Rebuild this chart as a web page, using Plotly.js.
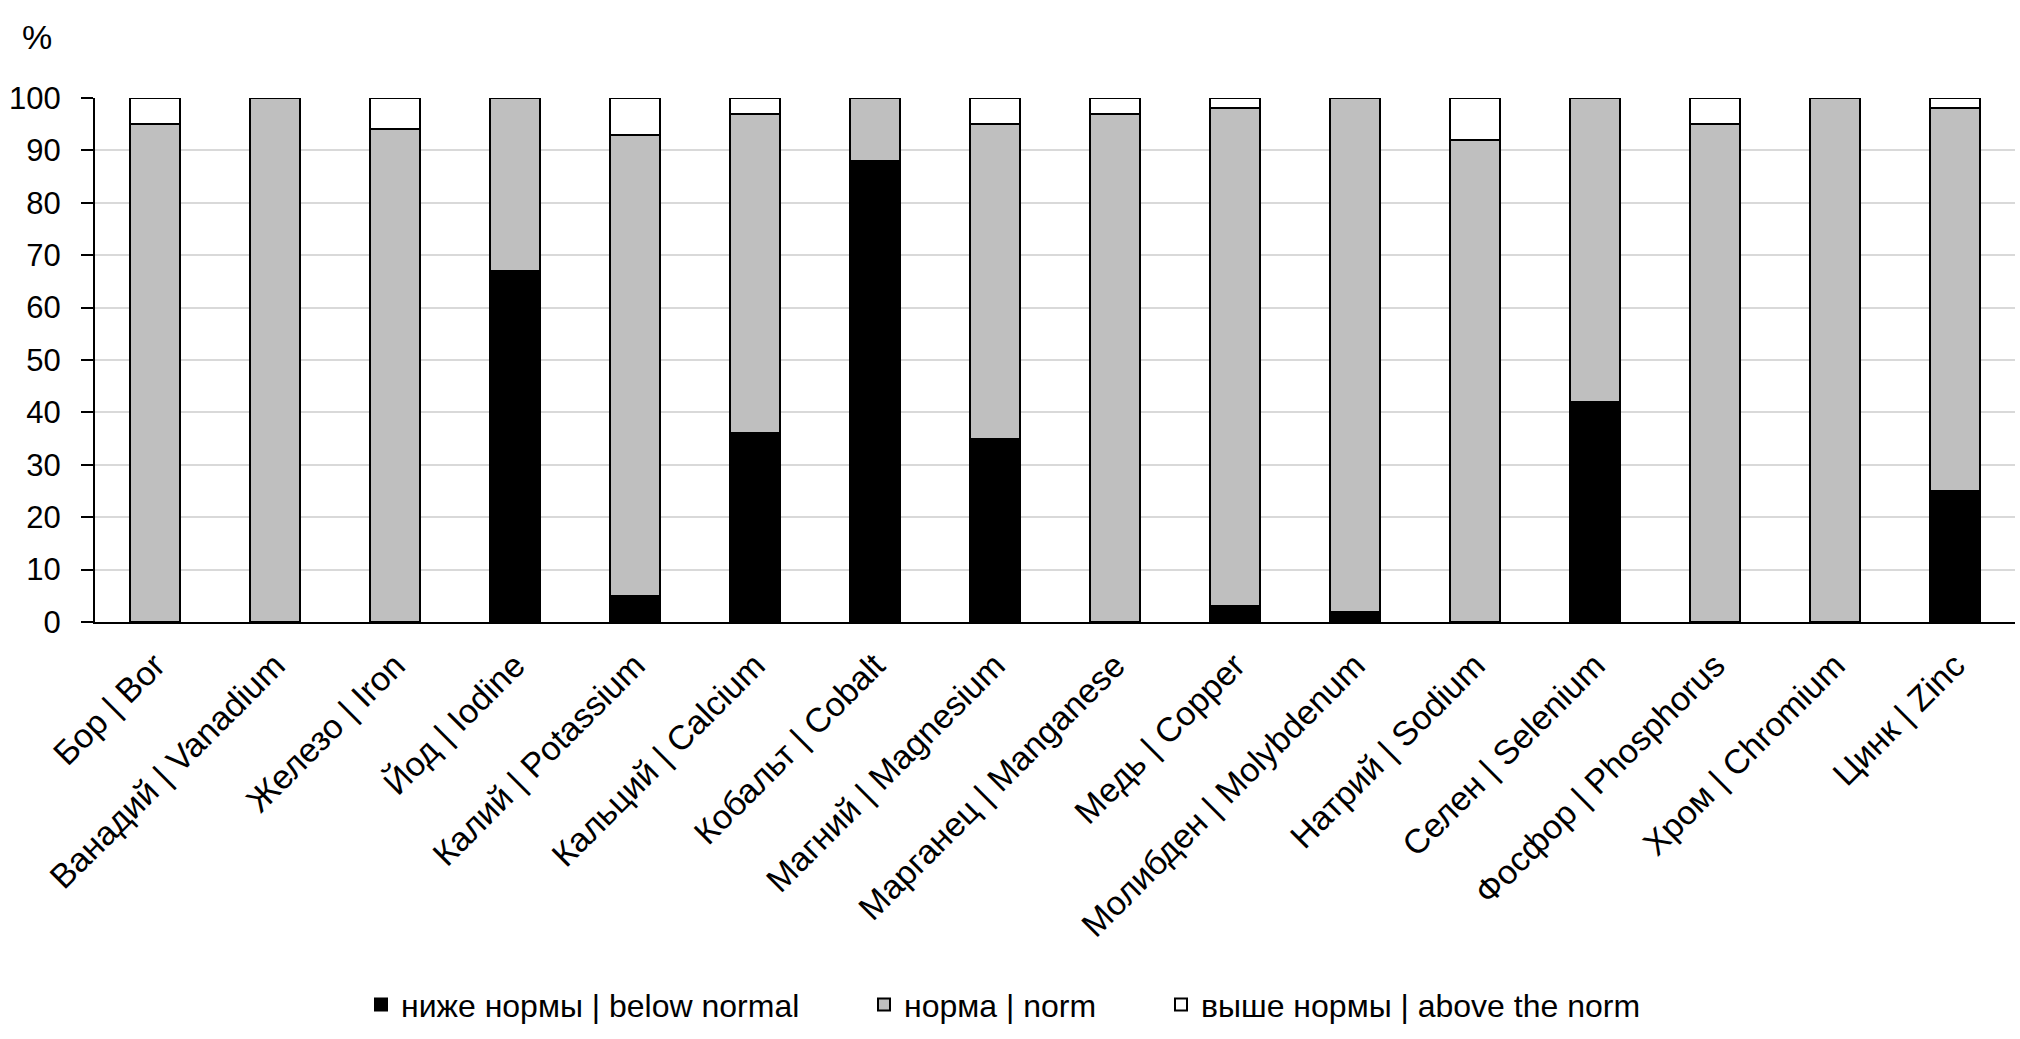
<!DOCTYPE html>
<html>
<head>
<meta charset="utf-8">
<script src="https://cdn.plot.ly/plotly-3.0.1.min.js"></script>
<style>html,body{margin:0;padding:0;background:#fff;}#chart{width:2020px;height:1039px;}</style>
</head>
<body>
<div id="chart"></div>
<script>
const categories = ["Бор | Bor", "Ванадий | Vanadium", "Железо | Iron", "Йод | Iodine", "Калий | Potassium", "Кальций | Calcium", "Кобальт | Cobalt", "Магний | Magnesium", "Марганец | Manganese", "Медь | Copper", "Молибден | Molybdenum", "Натрий | Sodium", "Селен | Selenium", "Фосфор | Phosphorus", "Хром | Chromium", "Цинк | Zinc"];
const belowNormal = [0, 0, 0, 67, 5, 36, 88, 35, 0, 3, 2, 0, 42, 0, 0, 25];
const normValues  = [95, 100, 94, 33, 88, 61, 12, 60, 97, 95, 98, 92, 58, 95, 100, 73];
const aboveNormal = [5, 0, 6, 0, 7, 3, 0, 5, 3, 2, 0, 8, 0, 5, 0, 2];
const seriesNames = ["ниже нормы | below normal", "норма | norm", "выше нормы | above the norm"];
const yTicks = [0, 10, 20, 30, 40, 50, 60, 70, 80, 90, 100];

const FONT = '"Liberation Sans Narrow", "Arial Narrow", "Liberation Sans", Arial, sans-serif';
const line = {color: '#000000', width: 2};

const traces = [
  {type: 'bar', x: categories, y: belowNormal, name: seriesNames[0], legend: 'legend', marker: {color: '#000000', line: line}},
  {type: 'bar', x: categories, y: normValues, name: seriesNames[1], legend: 'legend2', marker: {color: '#bfbfbf', line: line}},
  {type: 'bar', x: categories, y: aboveNormal, name: seriesNames[2], legend: 'legend3', marker: {color: '#ffffff', line: line}}
];

function legendAt(xpx) {
  return {
    orientation: 'h',
    xref: 'container', yref: 'container',
    x: xpx / 2020, xanchor: 'left', y: 0.033, yanchor: 'middle',
    font: {family: FONT, size: 32, color: '#000000'},
    itemwidth: 30, bgcolor: 'rgba(0,0,0,0)', borderwidth: 0
  };
}

const layout = {
  width: 2020, height: 1039,
  paper_bgcolor: '#ffffff', plot_bgcolor: '#ffffff',
  font: {family: FONT, size: 34, color: '#000000'},
  barmode: 'stack',
  bargap: 0.59,
  margin: {l: 95, r: 5, t: 98, b: 417, pad: 0},
  showlegend: true,
  legend: legendAt(361),
  legend2: legendAt(864),
  legend3: legendAt(1161),
  xaxis: {
    type: 'category',
    range: [-0.5, 15.5],
    tickangle: -45,
    showline: true, linecolor: '#000000', linewidth: 2,
    ticks: '', showgrid: false,
    ticklabelstandoff: 8,
    tickfont: {family: FONT, size: 34, color: '#000000'},
    automargin: false
  },
  yaxis: {
    range: [0, 100],
    tickvals: yTicks,
    ticks: 'outside', ticklen: 12, tickwidth: 2, tickcolor: '#000000',
    ticklabelstandoff: 14,
    showline: true, linecolor: '#000000', linewidth: 2,
    showgrid: true, gridcolor: '#d9d9d9', gridwidth: 2,
    zeroline: false,
    tickfont: {family: FONT, size: 31, color: '#000000'},
    automargin: false
  },
  annotations: [{
    text: '%', xref: 'paper', yref: 'paper',
    x: -0.0302, y: 1.1164, xanchor: 'center', yanchor: 'middle',
    showarrow: false, font: {family: FONT, size: 34, color: '#000000'}
  }]
};

Plotly.newPlot('chart', traces, layout, {displayModeBar: false, staticPlot: true});
</script>
</body>
</html>
